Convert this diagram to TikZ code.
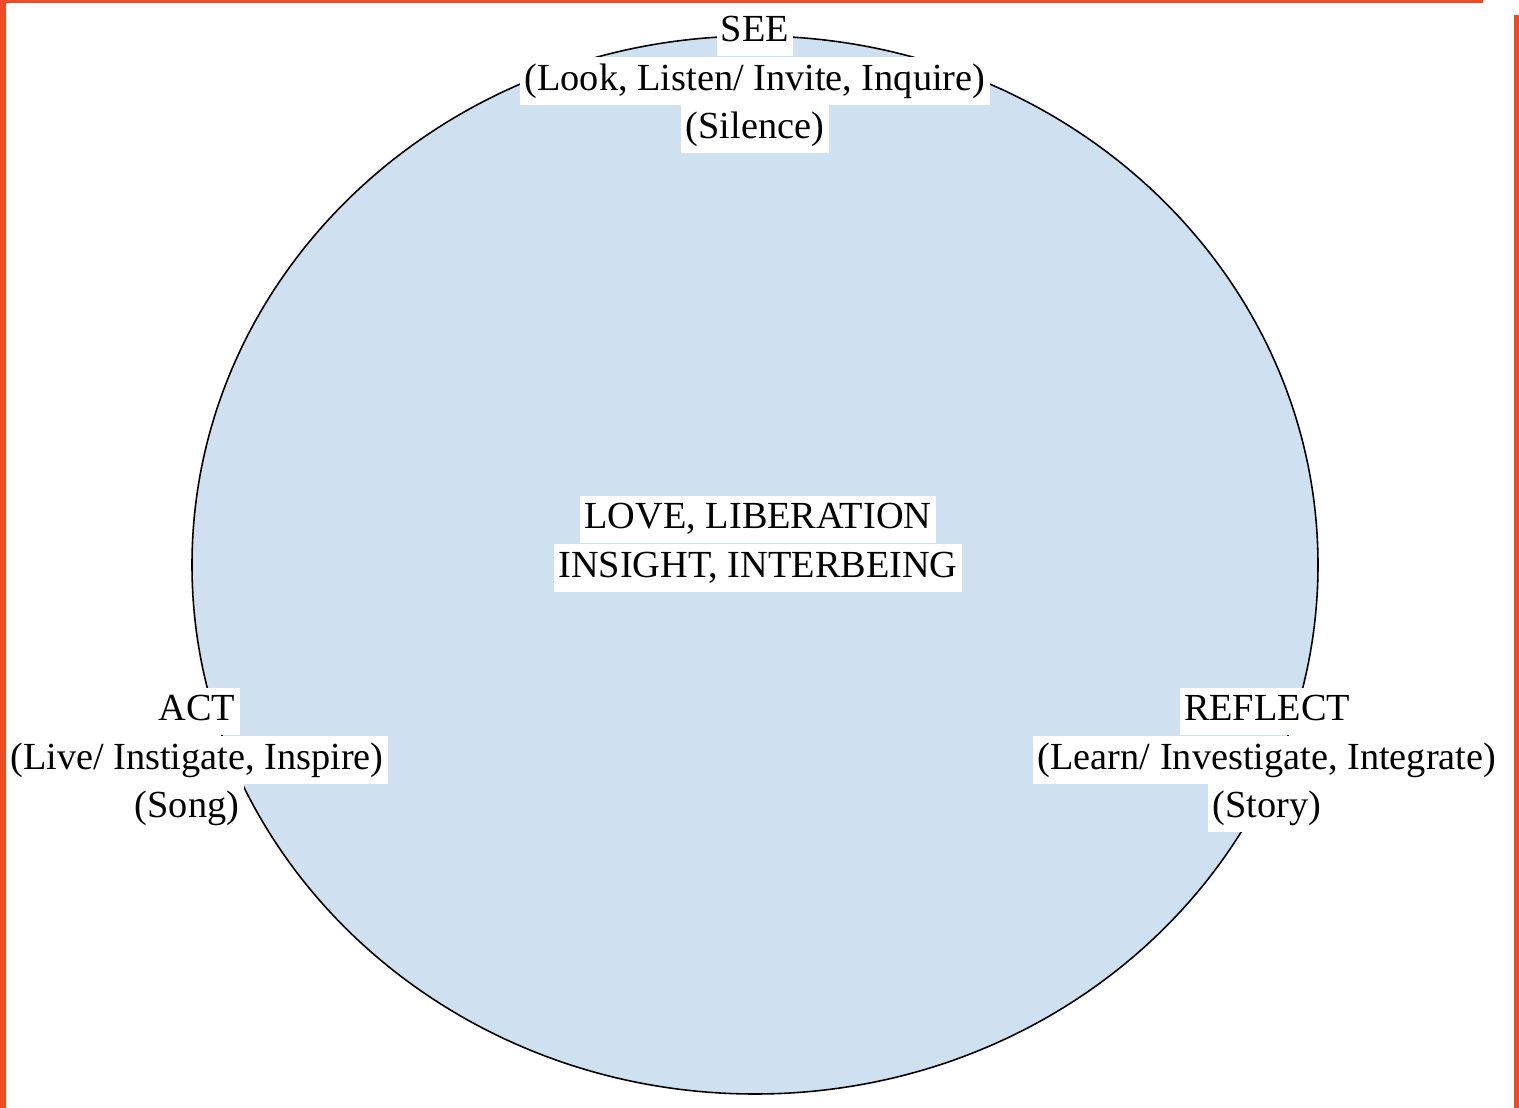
\documentclass[tikz,border=0pt]{standalone}
\usepackage{fontspec}
\setmainfont{Liberation Serif}
\usetikzlibrary{positioning}
\definecolor{discblue}{RGB}{207,224,241}
\definecolor{frameorange}{RGB}{238,75,36}

\begin{document}
\begin{tikzpicture}[font=\fontsize{21.8}{27}\selectfont,
    lbl/.style={fill=white, inner xsep=2.5pt, inner ysep=3.25pt, text height=15.5pt, text depth=5pt}]
            \useasboundingbox (0,0) rectangle (30.38,22.16);
            % frame on three sides
            \fill[frameorange] (0,0) rectangle (0.12,22.16);
            \fill[frameorange] (0,22.1) rectangle (29.66,22.16);
            \fill[frameorange] (30.28,0) rectangle (30.38,21.86);
            % the circle
            \draw[fill=discblue, line width=0.9pt] (15.10,10.86) ellipse [x radius=11.26, y radius=10.58];
            % SEE: top
            \node[lbl, anchor=base] (see) at (15.10,21.32) {SEE};
            \node[lbl, below=0pt of see] (seewords) {(Look, Listen/ Invite, Inquire)};
            \node[lbl, below=0pt of seewords] (seemode) {(Silence)};
            % ACT: left
            \node[lbl, anchor=base] (act) at (3.94,7.74) {ACT};
            \node[lbl, below=0pt of act] (actwords) {(Live/ Instigate, Inspire)};
            \node[lbl, below=0pt of actwords, xshift=-0.2cm] (actmode) {(Song)};
            % REFLECT: right
            \node[lbl, anchor=base] (reflect) at (25.34,7.74) {REFLECT};
            \node[lbl, below=0pt of reflect] (reflectwords) {(Learn/ Investigate, Integrate)};
            \node[lbl, below=0pt of reflectwords] (reflectmode) {(Story)};
            % centre
            \node[lbl, anchor=base] (core) at (15.16,11.58) {LOVE, LIBERATION};
            \node[lbl, below=0pt of core] (corebelow) {INSIGHT, INTERBEING};
        \end{tikzpicture}
\end{document}
